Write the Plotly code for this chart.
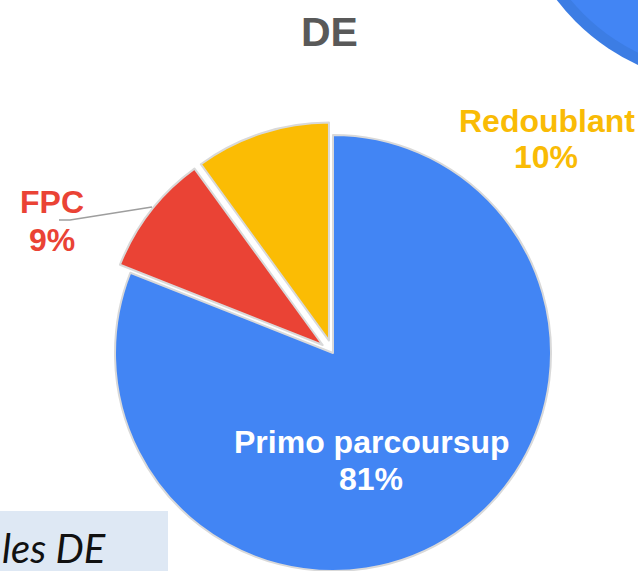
import plotly.graph_objects as go

# ---- data ----
labels = ["Primo parcoursup", "FPC", "Redoublant"]
values = [81, 9, 10]
colors = ["#4285F4", "#EA4335", "#FBBC04"]
label_colors = ["#FFFFFF", "#EA4335", "#F9BB05"]
pulls = [0, 0.06, 0.06]
title_text = "DE"
caption_text = "les DE"

# ---- layout geometry (pixels) ----
W, H = 638, 590


def px(x):
    return x / W


def py(y):
    return 1 - y / H


cx, cy, r = 333, 353, 218
half = r * (1 + max(pulls))
dom_x = [px(cx - half), px(cx + half)]
boxH = 2 * (H - cy)
dom_y = [0, boxH / H]

total = sum(values)
pct = [f"{round(v / total * 100)}%" for v in values]

fig = go.Figure()
fig.add_trace(go.Pie(
    labels=labels,
    values=values,
    sort=False,
    direction="clockwise",
    rotation=0,
    pull=pulls,
    marker=dict(colors=colors, line=dict(color="#d9d9d9", width=2)),
    textinfo="none",
    hoverinfo="label+percent",
    domain=dict(x=dom_x, y=dom_y),
    showlegend=False,
))

# label positions: (name center x, name center y, pct center x, pct center y)
label_pos = [
    (372, 442, 371, 479),
    (52, 202, 52, 240),
    (547, 121, 546, 157),
]
lbl_font = "Liberation Sans, Arial, sans-serif"
annotations = []
for i, (nx, ny, qx, qy) in enumerate(label_pos):
    annotations.append(dict(
        x=px(nx), y=py(ny), xref="paper", yref="paper", text=f"<b>{labels[i]}</b>",
        showarrow=False, xanchor="center", yanchor="middle",
        font=dict(family=lbl_font, size=32, color=label_colors[i])))
    annotations.append(dict(
        x=px(qx), y=py(qy), xref="paper", yref="paper", text=f"<b>{pct[i]}</b>",
        showarrow=False, xanchor="center", yanchor="middle",
        font=dict(family=lbl_font, size=32, color=label_colors[i])))

# title
annotations.append(dict(
    x=px(329), y=py(32), xref="paper", yref="paper", text=f"<b>{title_text}</b>",
    showarrow=False, xanchor="center", yanchor="middle",
    font=dict(family=lbl_font, size=41, color="#595959")))

# caption in bottom-left box
annotations.append(dict(
    x=px(108), y=py(574), xref="paper", yref="paper", text=f"<i>{caption_text}</i>",
    showarrow=False, xanchor="right", yanchor="bottom",
    font=dict(family="Lato, Open Sans, sans-serif", size=40, color="#111111")))

shapes = [
    # partial neighbouring pie at top-right
    dict(type="circle", xref="paper", yref="paper",
         x0=px(729 - 217), x1=px(729 + 217), y0=py(-132 + 217), y1=py(-132 - 217),
         fillcolor="#3C7DE4", line=dict(width=0), layer="below"),
    dict(type="circle", xref="paper", yref="paper",
         x0=px(729 - 206), x1=px(729 + 206), y0=py(-132 + 206), y1=py(-132 - 206),
         fillcolor="#4285F4", line=dict(width=0), layer="below"),
    # caption box
    dict(type="rect", xref="paper", yref="paper",
         x0=px(-2), x1=px(168), y0=py(H + 5), y1=py(511),
         fillcolor="#DEE8F4", line=dict(width=0), layer="below"),
    # FPC leader line
    dict(type="path", xref="paper", yref="paper",
         path=f"M {px(59)} {py(220)} L {px(70)} {py(220)} L {px(152)} {py(207)}",
         line=dict(color="#9e9e9e", width=1.5)),
]

fig.update_layout(
    width=W, height=H,
    margin=dict(l=0, r=0, t=0, b=0),
    paper_bgcolor="white",
    plot_bgcolor="white",
    annotations=annotations,
    shapes=shapes,
)

fig.write_html(
    "out.html",
    config={"displayModeBar": False},
    post_script="document.documentElement.style.overflow='hidden';"
                "document.body.style.overflow='hidden';document.body.style.margin='0';",
)
